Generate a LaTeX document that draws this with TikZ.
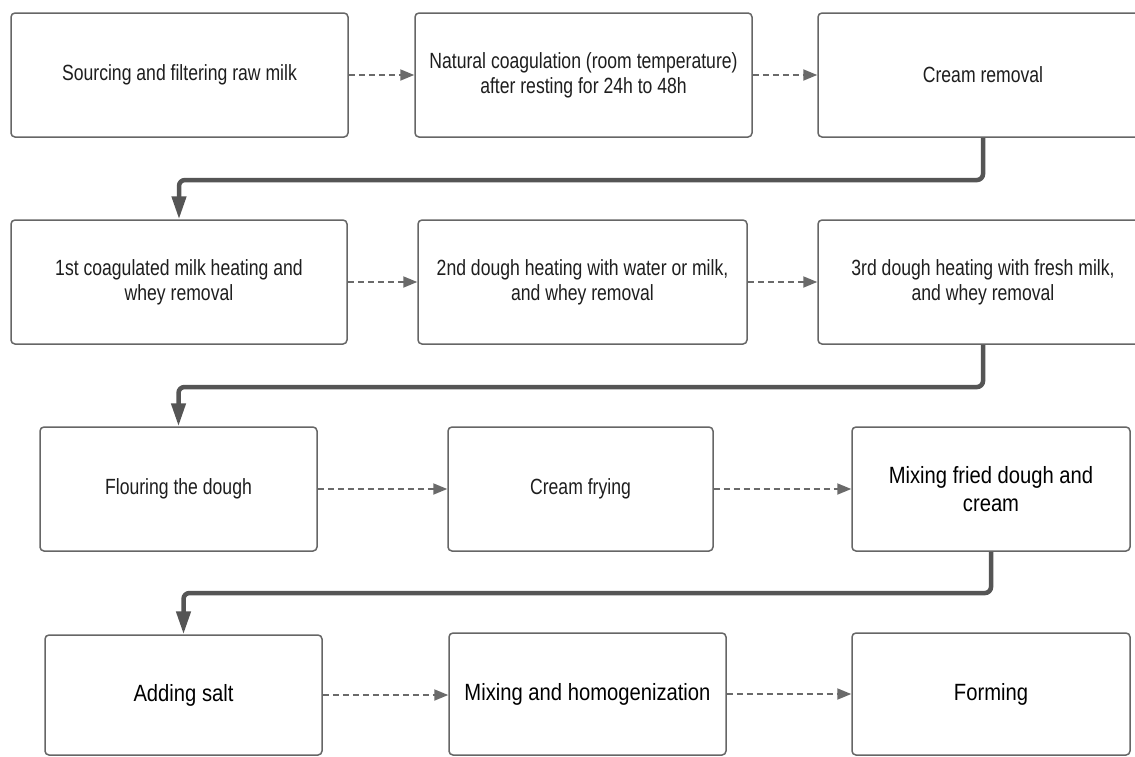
\documentclass[tikz,border=0pt]{standalone}
\usepackage{fontspec}
\setmainfont{Liberation Sans}
\newfontfamily\smallfam[FakeStretch=0.8]{Liberation Sans}
\newfontfamily\bigfam[FakeStretch=0.86]{Liberation Sans}
\usetikzlibrary{arrows.meta}
\definecolor{boxline}{HTML}{666666}
\definecolor{dashcol}{HTML}{6A6A6A}
\definecolor{thickcol}{HTML}{555555}
\definecolor{smalltext}{HTML}{1E1E1E}
\begin{document}
\begin{tikzpicture}[x=1pt,y=-1pt,
  procbox/.style={draw=boxline, line width=1.5pt, rounded corners=4pt, fill=white,
    minimum height=124pt, inner sep=0pt, align=center},
  smalltxt/.style={font=\smallfam\fontsize{22}{25}\selectfont, text=smalltext},
  bigtxt/.style={font=\bigfam\fontsize{23.5}{28}\selectfont, text=black},
  dasharrow/.style={draw=dashcol, line width=1.9pt, dash pattern=on 6pt off 4pt,
    -{Triangle[length=14pt,width=11pt]}},
  thickarrow/.style={draw=thickcol, line width=4.5pt, rounded corners=6pt,
    -{Triangle[length=23pt,width=14pt]}}
]
\useasboundingbox (0,0) rectangle (1135,756);
\fill[white] (0,0) rectangle (1135,756);

% row 1
\node[procbox, smalltxt, minimum width=337pt] (A1) at (179.5,75) {Sourcing and filtering raw milk};
\node[procbox, smalltxt, minimum width=337pt] (A2) at (583.5,75) {Natural coagulation (room temperature)\\after resting for 24h to 48h};
\node[procbox, smalltxt, minimum width=330pt] (A3) at (983,75) {Cream removal};
% row 2
\node[procbox, smalltxt, minimum width=336pt] (B1) at (179,282) {1st coagulated milk heating and\\whey removal};
\node[procbox, smalltxt, minimum width=329pt] (B2) at (582.5,282) {2nd dough heating with water or milk,\\and whey removal};
\node[procbox, smalltxt, minimum width=330pt] (B3) at (983,282) {3rd dough heating with fresh milk,\\and whey removal};
% row 3
\node[procbox, smalltxt, minimum width=277pt] (C1) at (178.5,489) {Flouring the dough};
\node[procbox, smalltxt, minimum width=265pt] (C2) at (580.5,489) {Cream frying};
\node[procbox, bigtxt, minimum width=278pt] (C3) at (991,489) {Mixing fried dough and\\cream};
% row 4
\node[procbox, bigtxt, minimum width=277pt, minimum height=120pt] (D1) at (183.5,695) {Adding salt};
\node[procbox, bigtxt, minimum width=277pt, minimum height=122pt] (D2) at (587.5,694) {Mixing and homogenization};
\node[procbox, bigtxt, minimum width=278pt, minimum height=122pt] (D3) at (991,694) {Forming};

% dashed arrows
\draw[dasharrow] (A1.east) -- (A2.west);
\draw[dasharrow] (A2.east) -- (A3.west);
\draw[dasharrow] (B1.east) -- (B2.west);
\draw[dasharrow] (B2.east) -- (B3.west);
\draw[dasharrow] (C1.east) -- (C1.east -| C2.west);
\draw[dasharrow] (C2.east) -- (C2.east -| C3.west);
\draw[dasharrow] (D1.east) -- (D1.east -| D2.west);
\draw[dasharrow] (D2.east) -- (D2.east -| D3.west);

% thick connectors
\coordinate (r1) at (0,180);
\coordinate (r2) at (0,387);
\coordinate (r3) at (0,593);
\draw[thickarrow] (A3.south) -- (A3.south |- r1) -| (B1.north);
\draw[thickarrow] (B3.south) -- (B3.south |- r2) -| (C1.north);
\draw[thickarrow] (C3.south) -- (C3.south |- r3) -| (D1.north);
\end{tikzpicture}
\end{document}
